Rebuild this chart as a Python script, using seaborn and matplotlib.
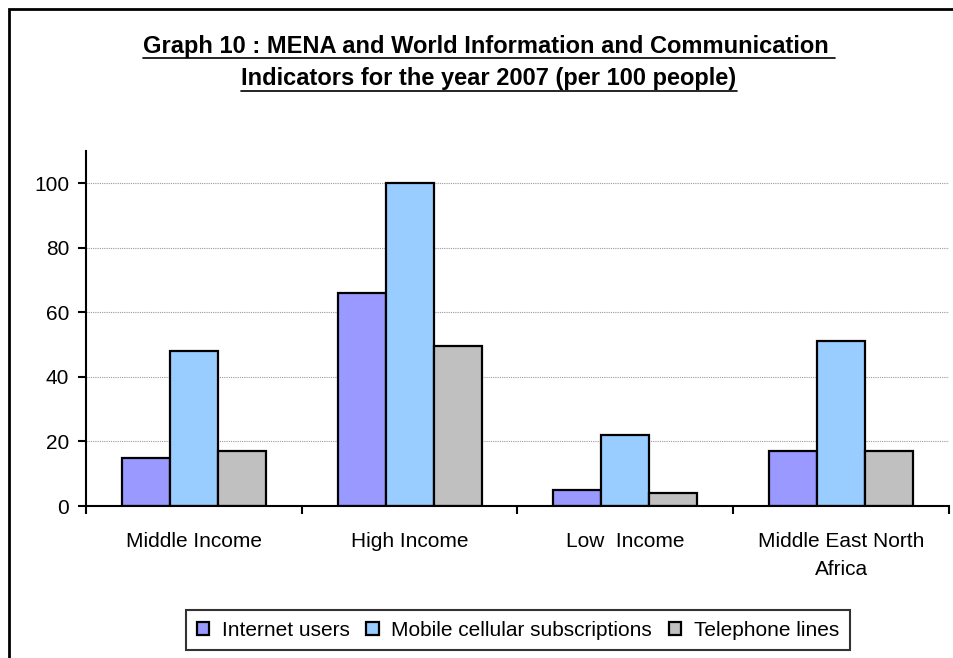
import pandas as pd
import matplotlib.pyplot as plt
import seaborn as sns
from matplotlib.patches import Rectangle
from matplotlib.ticker import FixedLocator

# Data
groups = ['Middle Income', 'High Income', 'Low  Income', 'Middle East North\nAfrica']
series = ['Internet users', 'Mobile cellular subscriptions', 'Telephone lines']
internet_users = [15, 66, 5, 17]
mobile_subs = [48, 100, 22, 51]
telephone_lines = [17, 49.5, 4, 17]
colors = ['#9999FF', '#99CCFF', '#C0C0C0']

# Long-form table for seaborn
data = pd.DataFrame({
    'group': groups * 3,
    'series': [series[0]] * 4 + [series[1]] * 4 + [series[2]] * 4,
    'value': internet_users + mobile_subs + telephone_lines,
})

sns.set_style('white')
plt.rcParams['font.family'] = ['Liberation Sans', 'DejaVu Sans']
plt.rcParams['text.color'] = 'black'
plt.rcParams['xtick.color'] = 'black'
plt.rcParams['ytick.color'] = 'black'

fig = plt.figure(figsize=(9.54, 6.58), dpi=100)
ax = fig.add_axes([86 / 954, 1 - 506 / 658, (949 - 86) / 954, (506 - 151) / 658])

sns.barplot(data=data, x='group', y='value', hue='series', palette=colors, saturation=1,
            width=2 / 3, edgecolor='black', linewidth=1.6, ax=ax, legend=True)

ax.set_xlim(-0.5, 3.5)
ax.set_ylim(0, 110)
ax.set_yticks([0, 20, 40, 60, 80, 100])
ax.set_xlabel('')
ax.set_ylabel('')

# dotted grid lines at major y ticks
for y in [20, 40, 60, 80, 100]:
    ax.axhline(y, color='#9a9a9a', linestyle=(0, (1, 1)), linewidth=0.8, zorder=0)

sns.despine(ax=ax)
ax.spines['left'].set_linewidth(1.5)
ax.spines['bottom'].set_linewidth(1.5)
ax.spines['left'].set_color('black')
ax.spines['bottom'].set_color('black')

ax.tick_params(axis='y', which='major', direction='out', length=6, width=1.5,
               labelsize=15, pad=6, left=True)
ax.tick_params(axis='x', which='major', length=0, labelsize=15, pad=19)
ax.xaxis.set_minor_locator(FixedLocator([-0.5, 0.5, 1.5, 2.5, 3.5]))
ax.tick_params(axis='x', which='minor', direction='out', length=6, width=1.5, bottom=True)
for lab in ax.get_xticklabels():
    lab.set_linespacing(1.6)

# legend
handles, labels = ax.get_legend_handles_labels()
ax.legend_.remove()
leg = fig.legend(handles, labels, loc='center', bbox_to_anchor=(518 / 954, 1 - 630 / 658),
                 ncol=3, fontsize=15, frameon=True, fancybox=False, edgecolor='black',
                 handlelength=0.6, handleheight=0.6, handletextpad=0.6,
                 columnspacing=0.8, borderpad=0.5)
leg.get_frame().set_linewidth(1.5)

# title with underlines
title_lines = ['Graph 10 : MENA and World Information and Communication ',
               'Indicators for the year 2007 (per 100 people)']
title_y = [46, 79]
fig.canvas.draw()
renderer = fig.canvas.get_renderer()
for line, yy in zip(title_lines, title_y):
    t = fig.text(489 / 954, 1 - yy / 658, line, ha='center', va='center',
                 fontsize=17, fontweight='bold')
    bb = t.get_window_extent(renderer=renderer).transformed(fig.transFigure.inverted())
    uy = 1 - (yy + 12) / 658
    fig.add_artist(plt.Line2D([bb.x0, bb.x1], [uy, uy], color='black', linewidth=1.2))

# outer chart frame (cropped on the right and bottom)
fig.patches.append(Rectangle((9 / 954, -0.1), 1.2, 1.1 - 9 / 658, transform=fig.transFigure,
                             fill=False, edgecolor='black', linewidth=2))

fig.savefig('out.png', dpi=100)
